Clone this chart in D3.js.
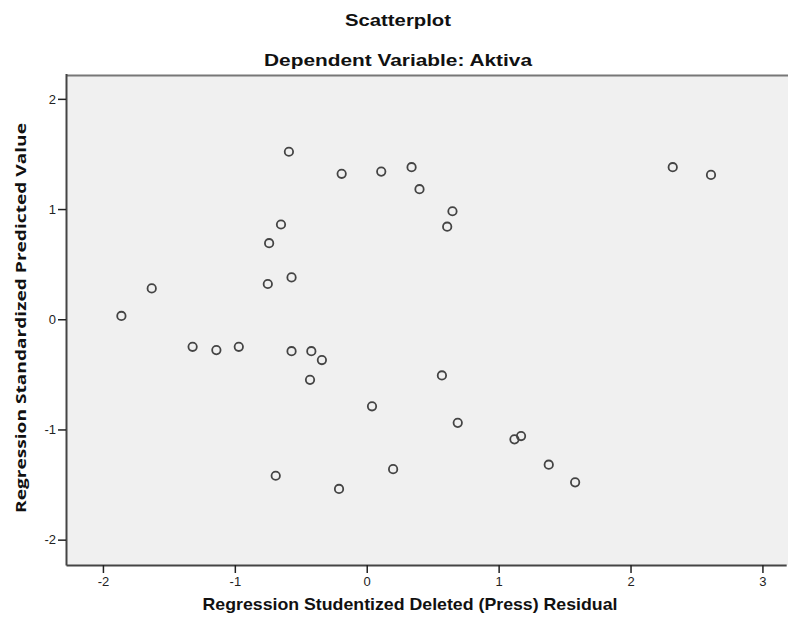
<!DOCTYPE html>
<html>
<head>
<meta charset="utf-8">
<script src="https://cdn.jsdelivr.net/npm/d3@7"></script>
<style>
  body { margin: 0; background: #fff; }
  svg { display: block; }
</style>
</head>
<body>
<div id="graph"></div>
<script>
"use strict";
(function() {
    const size = { width: 788, height: 628 };
    const plot = { left: 66, top: 75, right: 788, bottom: 565 };

    // residuals (x) and predicted values (y)
    const residual = [
        -1.86, -1.63, -1.32, -1.14, -0.97, -0.69, -0.74, -0.65,
        -0.75, -0.57, -0.59, -0.57, -0.42, -0.34, -0.43, -0.19,
        -0.21, 0.04, 0.11, 0.20, 0.34, 0.40, 0.57, 0.65,
        0.61, 0.69, 1.12, 1.17, 1.38, 1.58, 2.32, 2.61
    ];
    const predicted = [
        0.03, 0.28, -0.25, -0.28, -0.25, -1.42, 0.69, 0.86,
        0.32, 0.38, 1.52, -0.29, -0.29, -0.37, -0.55, 1.32,
        -1.54, -0.79, 1.34, -1.36, 1.38, 1.18, -0.51, 0.98,
        0.84, -0.94, -1.09, -1.06, -1.32, -1.48, 1.38, 1.31
    ];
    const xTicks = [-2, -1, 0, 1, 2, 3];
    const yTicks = [-2, -1, 0, 1, 2];

    window.addEventListener("load", init);

    function init() {
        const svg = d3.select("#graph")
            .append("svg")
                .attr("width", size.width)
                .attr("height", size.height);

        const xScale = d3.scaleLinear()
            .domain([-2.28, 3.18])
            .range([plot.left, plot.left + 5.46 * 131.9]);
        const yScale = d3.scaleLinear()
            .domain([-2.23, 2.23])
            .range([plot.bottom, plot.bottom - 4.46 * 110.2]);

        const narrow = "'Liberation Sans Narrow', 'Liberation Sans', Arial, sans-serif";

        // plot background
        svg.append("rect")
            .attr("x", plot.left)
            .attr("y", plot.top)
            .attr("width", plot.right - plot.left)
            .attr("height", plot.bottom - plot.top)
            .attr("fill", "#f0f0f0");
        svg.append("line")
            .attr("x1", plot.left).attr("x2", plot.right)
            .attr("y1", plot.top + 0.5).attr("y2", plot.top + 0.5)
            .attr("stroke", "#777").attr("stroke-width", 2);

        // axes, plain hyphen for negatives like the original
        const fmt = (d) => String(d);
        const xAxis = svg.append("g")
            .attr("transform", "translate(0," + plot.bottom + ")")
            .call(d3.axisBottom(xScale).tickValues(xTicks).tickFormat(fmt)
                .tickSize(8).tickPadding(4).tickSizeOuter(0));
        const yAxis = svg.append("g")
            .attr("transform", "translate(" + plot.left + ",0)")
            .call(d3.axisLeft(yScale).tickValues(yTicks).tickFormat(fmt)
                .tickSize(8).tickPadding(2).tickSizeOuter(0));

        [xAxis, yAxis].forEach(function(ax) {
            ax.select(".domain").attr("stroke", "#444").attr("stroke-width", 2);
            ax.selectAll(".tick line").attr("stroke", "#222").attr("stroke-width", 1.5);
            ax.selectAll(".tick text")
                .attr("fill", "#222")
                .style("font-family", narrow)
                .style("font-size", "13px");
        });

        // points
        svg.append("g")
            .selectAll("circle")
            .data(residual)
            .enter()
            .append("circle")
                .attr("cx", (d) => xScale(d))
                .attr("cy", (d, i) => yScale(predicted[i]))
                .attr("r", 4.2)
                .attr("fill", "none")
                .attr("stroke", "#444")
                .attr("stroke-width", 1.8);

        // titles
        svg.append("text")
            .attr("x", 398).attr("y", 26)
            .attr("text-anchor", "middle")
            .attr("textLength", 106).attr("lengthAdjust", "spacingAndGlyphs")
            .style("font-family", narrow)
            .style("font-weight", "bold")
            .style("font-size", "17px")
            .attr("fill", "#111")
            .text("Scatterplot");
        svg.append("text")
            .attr("x", 398).attr("y", 66)
            .attr("text-anchor", "middle")
            .attr("textLength", 268).attr("lengthAdjust", "spacingAndGlyphs")
            .style("font-family", narrow)
            .style("font-weight", "bold")
            .style("font-size", "17px")
            .attr("fill", "#111")
            .text("Dependent Variable: Aktiva");

        // axis labels
        svg.append("text")
            .attr("x", 410).attr("y", 610)
            .attr("text-anchor", "middle")
            .attr("textLength", 415).attr("lengthAdjust", "spacingAndGlyphs")
            .style("font-family", narrow)
            .style("font-weight", "bold")
            .style("font-size", "17px")
            .attr("fill", "#111")
            .text("Regression Studentized Deleted (Press) Residual");
        svg.append("text")
            .attr("transform", "translate(26,318) rotate(-90)")
            .attr("text-anchor", "middle")
            .attr("textLength", 390).attr("lengthAdjust", "spacingAndGlyphs")
            .style("font-family", "'Open Sans', 'DejaVu Sans', sans-serif")
            .style("font-weight", "bold")
            .style("font-size", "15px")
            .attr("fill", "#111")
            .text("Regression Standardized Predicted Value");
    }
})();
</script>
</body>
</html>
